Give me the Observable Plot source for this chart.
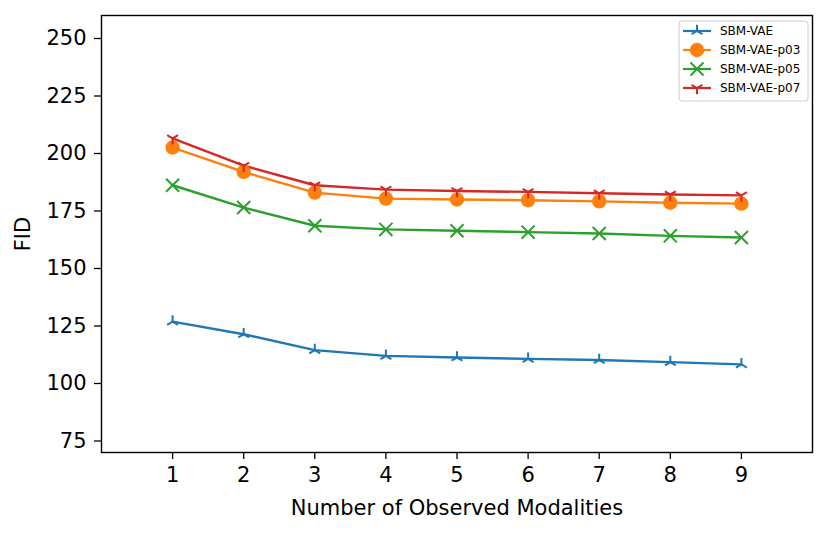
<!DOCTYPE html>
<html><head><meta charset="utf-8">
<script src="https://cdn.jsdelivr.net/npm/d3@7"></script>
<script src="https://cdn.jsdelivr.net/npm/@observablehq/plot@0.6"></script>
<style>body{margin:0;background:#fff} #chart{width:830px;height:534px}</style>
</head><body><div id="chart"></div>
<script>
const modalities = [1,2,3,4,5,6,7,8,9];
const seriesNames = ["SBM-VAE","SBM-VAE-p03","SBM-VAE-p05","SBM-VAE-p07"];
const seriesColors = ["#1f77b4","#ff7f0e","#2ca02c","#d62728"];
const fidSBMVAE = [126.9,121.4,114.5,112.0,111.3,110.7,110.2,109.3,108.3];
const fidP03    = [202.6,192.0,183.0,180.4,180.0,179.7,179.2,178.6,178.2];
const fidP05    = [186.2,176.5,168.6,167.0,166.4,165.8,165.2,164.2,163.5];
const fidP07    = [206.6,194.7,186.2,184.3,183.7,183.3,182.7,182.2,181.8];
const yTicks = [75,100,125,150,175,200,225,250];
const xTicks = [1,2,3,4,5,6,7,8,9];
const seriesValues = [fidSBMVAE, fidP03, fidP05, fidP07];

const triUp = {draw(c, size){const r=Math.sqrt(size/Math.PI);c.moveTo(0,0);c.lineTo(0,-r);c.moveTo(0,0);c.lineTo(-0.866*r,0.5*r);c.moveTo(0,0);c.lineTo(0.866*r,0.5*r);}};
const triDown = {draw(c, size){const r=Math.sqrt(size/Math.PI);c.moveTo(0,0);c.lineTo(0,r);c.moveTo(0,0);c.lineTo(-0.866*r,-0.5*r);c.moveTo(0,0);c.lineTo(0.866*r,-0.5*r);}};
const markers = [
  {symbol: triUp, r: 6.3, filled: false},
  {symbol: "circle", r: 7.2, filled: true},
  {symbol: "times", r: 6, filled: false},
  {symbol: triDown, r: 6.3, filled: false}
];

const rows = [];
seriesNames.forEach((s, i) => seriesValues[i].forEach((v, j) => rows.push({series: s, x: modalities[j], fid: v})));

const mL = 101, mR = 18, mT = 15, mB = 82, W = 830, H = 534;

const dotMarks = seriesNames.map((s, i) => {
  const m = markers[i];
  const data = rows.filter(d => d.series === s);
  return Plot.dot(data, m.filled
    ? {x: "x", y: "fid", r: m.r, symbol: m.symbol, fill: seriesColors[i], stroke: "none"}
    : {x: "x", y: "fid", r: m.r, symbol: m.symbol, fill: "none", stroke: seriesColors[i], strokeWidth: 2});
});

const plot = Plot.plot({
  width: W, height: H,
  marginLeft: mL, marginRight: mR, marginTop: mT, marginBottom: mB,
  style: {fontFamily: "'DejaVu Sans', sans-serif", fontSize: "21px", background: "white", color: "black"},
  x: {domain: [0, 10]},
  y: {domain: [70, 260]},
  color: {domain: seriesNames, range: seriesColors},
  marks: [
    Plot.axisX({ticks: xTicks, tickSize: 7, tickPadding: 8, label: "Number of Observed Modalities", labelAnchor: "center", labelOffset: 62, labelArrow: "none", fontSize: 21, strokeWidth: 1.3}),
    Plot.axisY({ticks: yTicks, tickSize: 7, tickPadding: 8, label: "FID", labelAnchor: "center", labelOffset: 86, labelArrow: "none", fontSize: 21, strokeWidth: 1.3}),
    Plot.line(rows, {x: "x", y: "fid", z: "series", stroke: "series", strokeWidth: 2.4}),
    ...dotMarks,
    Plot.frame({stroke: "black", strokeWidth: 1.4})
  ]
});
document.getElementById("chart").appendChild(plot);

// Legend inside the frame (top-right)
const svg = d3.select(plot);
const fr = W - mR;
const lg = svg.append("g").attr("font-family", "'DejaVu Sans', sans-serif").attr("font-size", 12).attr("text-anchor", "start");
lg.append("rect").attr("x", fr - 133).attr("y", mT + 6).attr("width", 129).attr("height", 80)
  .attr("rx", 3).attr("fill", "white").attr("fill-opacity", 0.8).attr("stroke", "#cccccc");
seriesNames.forEach((s, i) => {
  const y = mT + 16 + i * 19;
  const x0 = fr - 129;
  lg.append("line").attr("x1", x0).attr("x2", x0 + 28).attr("y1", y).attr("y2", y)
    .attr("stroke", seriesColors[i]).attr("stroke-width", 2.2);
  const m = markers[i];
  const type = m.symbol === "circle" ? d3.symbolCircle : m.symbol === "times" ? d3.symbolTimes : m.symbol;
  lg.append("path").attr("transform", `translate(${x0 + 14},${y})`)
    .attr("d", d3.symbol(type, Math.PI * m.r * m.r)())
    .attr("fill", m.filled ? seriesColors[i] : "none")
    .attr("stroke", m.filled ? "none" : seriesColors[i]).attr("stroke-width", 2);
  lg.append("text").attr("x", x0 + 37).attr("y", y).attr("dy", "0.35em").attr("text-anchor", "start").attr("fill", "black").text(s);
});
</script>
</body></html>
